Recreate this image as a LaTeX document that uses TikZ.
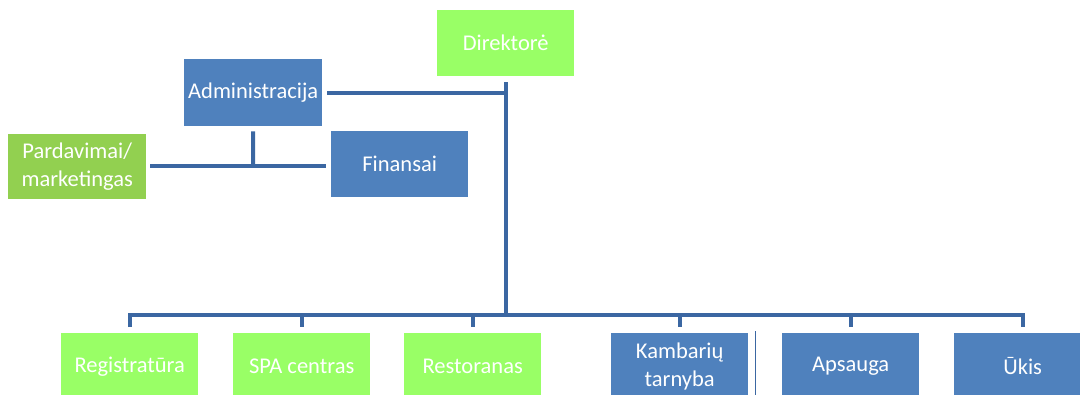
\documentclass[tikz,border=0pt]{standalone}
\usepackage{fontspec}
\setmainfont{Carlito}
\definecolor{unitblue}{HTML}{4F81BD}
\definecolor{unitgreen}{HTML}{99FF66}
\definecolor{salesgreen}{HTML}{92D050}
\definecolor{linkblue}{HTML}{3B67A2}
\tikzset{
  unit/.style={rectangle, inner sep=0pt, minimum width=137pt, minimum height=66pt,
    text=white, align=center, font=\fontsize{22.5}{28}\selectfont},
  bluebox/.style={unit, fill=unitblue},
  greenbox/.style={unit, fill=unitgreen},
  salesbox/.style={unit, fill=salesgreen},
  link/.style={draw=linkblue, line width=4pt},
  divider/.style={draw=linkblue, line width=1.5pt}
}
\begin{document}
\begin{tikzpicture}[x=1pt, y=-1pt]
  \useasboundingbox (0,0) rectangle (1080,394);
  \clip (0,0) rectangle (1080,394);

  % management level
  \node[greenbox, anchor=north west] (dir) at (437,10) {Direktorė};
  \node[bluebox, anchor=north west, minimum width=138pt, minimum height=67pt] (adm) at (184,59) {Administracija};
  \node[bluebox, anchor=north west] (fin) at (331,131) {Finansai};
  \node[salesbox, anchor=north west, minimum width=138pt, minimum height=65pt] (par) at (8,134) {Pardavimai/\\marketingas};

  % departments
  \node[greenbox, anchor=north west] (reg) at (61,333) {Registratūra};
  \node[greenbox, anchor=north west] (spa) at (233,333) {SPA centras};
  \node[greenbox, anchor=north west] (res) at (404,333) {Restoranas};
  \node[bluebox, anchor=north west] (kam) at (611,333) {Kambarių\\tarnyba};
  \node[bluebox, anchor=north west] (aps) at (782,333) {Apsauga};
  \node[bluebox, anchor=north west] (uki) at (954,333) {Ūkis};

  % junction points
  \coordinate (bus) at (506,315);
  \coordinate (split) at (253,166);

  % director trunk and administration branch
  \draw[link] ([yshift=-6pt]dir.south) -- (dir.south |- bus);
  \draw[link] ([xshift=5pt]adm.east) -- (adm.east -| dir.south);

  % administration to sales and finance
  \draw[link] ([yshift=-5pt]adm.south) -- (split);
  \draw[link] ([xshift=4pt]par.east |- split) -- ([xshift=-5pt]fin.west |- split);

  % department bus
  \draw[link] ([yshift=6pt]reg.north) |- (bus) -| ([yshift=6pt]uki.north);
  \foreach \d in {spa,res,kam,aps}
    \draw[link] (\d.north |- bus) -- ([yshift=6pt]\d.north);

  % thin divider beside room service
  \draw[divider] ([xshift=7pt,yshift=2pt]kam.north east) -- ([xshift=7pt]kam.south east);
\end{tikzpicture}
\end{document}
